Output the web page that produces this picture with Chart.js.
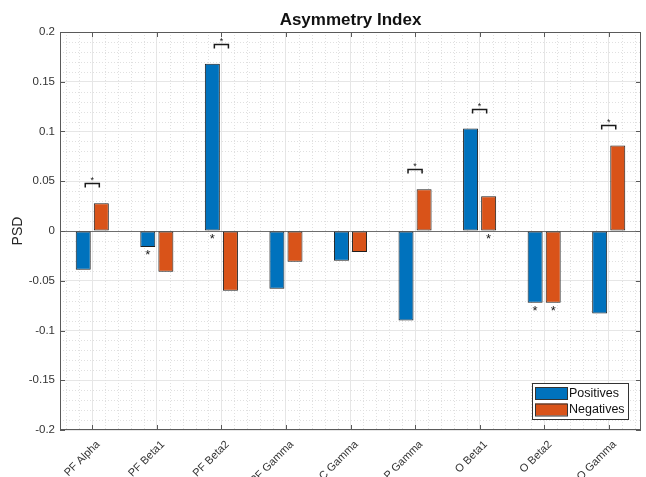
<!DOCTYPE html>
<html>
<head>
<meta charset="utf-8">
<title>Asymmetry Index</title>
<script src="https://cdn.jsdelivr.net/npm/chart.js@4.4.1/dist/chart.umd.min.js"></script>
<style>
  html, body { margin: 0; padding: 0; background: #fff; }
  #wrap { width: 646px; height: 477px; }
</style>
</head>
<body>
<div id="wrap"><canvas id="asym" width="646" height="477"></canvas></div>
<script>
'use strict';

// ── Data ──────────────────────────────────────────────────
const bands     = ['PF Alpha', 'PF Beta1', 'PF Beta2', 'PF Gamma', 'C Gamma', 'P Gamma', 'O Beta1', 'O Beta2', 'O Gamma'];
const positives = [-0.039, -0.016, 0.168, -0.058, -0.030, -0.090, 0.103, -0.072, -0.083];
const negatives = [0.028, -0.041, -0.060, -0.031, -0.021, 0.042, 0.035, -0.072, 0.086];
const yTicks    = [-0.2, -0.15, -0.1, -0.05, 0, 0.05, 0.1, 0.15, 0.2];
// bands where the two groups differ (bracket with star above)
const pairSig   = ['PF Alpha', 'PF Beta2', 'P Gamma', 'O Beta1', 'O Gamma'];
// single bars marked with a star below: [band, series]
const barSig    = [['PF Beta1', 0], ['PF Beta2', 0], ['O Beta1', 1], ['O Beta2', 0], ['O Beta2', 1]];

const BLUE   = '#0072BD';
const ORANGE = '#D95319';
const AXIS   = '#5a5a5a';
const FONT   = "'Liberation Sans', Arial, Helvetica, sans-serif";

Chart.defaults.font.family = FONT;
Chart.defaults.color = '#333';

function seg(ctx, x1, y1, x2, y2) {
    ctx.beginPath(); ctx.moveTo(x1, y1); ctx.lineTo(x2, y2); ctx.stroke();
}

// ── MATLAB-like frame, minor grid, stars, legend ──────────
const matlabFrame = {
    id: 'matlabFrame',
    beforeDatasetsDraw(chart) {
        const { ctx, chartArea: a, scales: { x, y } } = chart;
        ctx.save();
        ctx.lineWidth = 1;
        ctx.strokeStyle = '#e0e0e0';
        ctx.setLineDash([1, 2]);
        // minor y grid (0.01)
        for (let k = -19; k <= 19; k++) {
            if (k % 5 === 0) continue;
            const py = Math.round(y.getPixelForValue(k / 100)) + 0.5;
            seg(ctx, a.left, py, a.right, py);
        }
        // minor x grid (0.2 of a category)
        const step = x.getPixelForValue(1) - x.getPixelForValue(0);
        bands.forEach((b, i) => {
            [-0.4, -0.2, 0.2, 0.4].forEach(f => {
                const px = Math.round(x.getPixelForValue(i) + f * step) + 0.5;
                if (px > a.left + 1 && px < a.right - 1) seg(ctx, px, a.top, px, a.bottom);
            });
        });
        ctx.setLineDash([]);
        // bar baseline
        ctx.strokeStyle = '#6e6e6e';
        const z = Math.round(y.getPixelForValue(0)) + 0.5;
        seg(ctx, a.left, z, a.right, z);
        ctx.restore();
    },
    afterDatasetsDraw(chart) {
        const { ctx, chartArea: a, scales: { x, y } } = chart;
        ctx.save();
        // box + inward ticks
        ctx.strokeStyle = AXIS;
        ctx.lineWidth = 1;
        ctx.strokeRect(a.left + 0.5, a.top + 0.5, a.right - a.left - 1, a.bottom - a.top - 1);
        bands.forEach((b, i) => {
            const px = Math.round(x.getPixelForValue(i)) + 0.5;
            seg(ctx, px, a.bottom, px, a.bottom - 5);
            seg(ctx, px, a.top, px, a.top + 5);
        });
        yTicks.forEach(v => {
            const py = Math.round(y.getPixelForValue(v)) + 0.5;
            seg(ctx, a.left, py, a.left + 5, py);
            seg(ctx, a.right, py, a.right - 5, py);
        });

        const m0 = chart.getDatasetMeta(0).data;
        const m1 = chart.getDatasetMeta(1).data;
        ctx.fillStyle = '#1a1a1a';
        ctx.strokeStyle = '#1a1a1a';
        ctx.textAlign = 'center';

        // brackets between groups
        pairSig.forEach(b => {
            const i = bands.indexOf(b);
            const top = Math.min(m0[i].y, m1[i].y, y.getPixelForValue(0));
            const yb = Math.round(top - 20) + 0.5;
            const xl = m0[i].x + 2, xr = m1[i].x - 2;
            ctx.lineWidth = 1.5;
            ctx.beginPath();
            ctx.moveTo(xl, yb + 4); ctx.lineTo(xl, yb); ctx.lineTo(xr, yb); ctx.lineTo(xr, yb + 4);
            ctx.stroke();
            ctx.font = '9px ' + FONT;
            ctx.textBaseline = 'alphabetic';
            ctx.fillText('*', (xl + xr) / 2, yb - 0.5);
        });

        // stars under single bars
        ctx.font = '13px ' + FONT;
        ctx.textBaseline = 'top';
        barSig.forEach(([b, s]) => {
            const i = bands.indexOf(b);
            const el = (s === 0 ? m0 : m1)[i];
            const bottom = Math.max(el.y, el.base);
            ctx.fillText('*', el.x, bottom + 2);
        });
        ctx.restore();
    },
    afterDraw(chart) {
        const { ctx, chartArea: a } = chart;
        ctx.save();
        // title
        ctx.fillStyle = '#111';
        ctx.font = 'bold 17px ' + FONT;
        ctx.textAlign = 'center';
        ctx.textBaseline = 'alphabetic';
        ctx.fillText('Asymmetry Index', (a.left + a.right) / 2, 25);
        // y label
        ctx.font = '14px ' + FONT;
        ctx.fillStyle = '#262626';
        ctx.translate(18, (a.top + a.bottom) / 2);
        ctx.rotate(-Math.PI / 2);
        ctx.textBaseline = 'middle';
        ctx.fillText('PSD', 0, 0);
        ctx.restore();

        // legend box in lower right
        ctx.save();
        const w = 96, h = 36;
        const lx = a.right - 13 - w, ly = a.bottom - 11 - h;
        ctx.fillStyle = '#fff';
        ctx.fillRect(lx, ly, w, h);
        ctx.strokeStyle = '#333';
        ctx.lineWidth = 1;
        ctx.strokeRect(lx + 0.5, ly + 0.5, w, h);
        ctx.font = '12.5px ' + FONT;
        ctx.textAlign = 'left';
        ctx.textBaseline = 'middle';
        chart.data.datasets.forEach((ds, k) => {
            const ry = ly + 4 + k * 16.5;
            ctx.fillStyle = ds.backgroundColor;
            ctx.fillRect(lx + 3, ry, 32, 12);
            ctx.strokeStyle = '#333';
            ctx.strokeRect(lx + 3.5, ry + 0.5, 32, 12);
            ctx.fillStyle = '#111';
            ctx.fillText(ds.label, lx + 37, ry + 6.5);
        });
        ctx.restore();
    }
};

// ── Chart ─────────────────────────────────────────────────
new Chart(document.getElementById('asym'), {
    type: 'bar',
    data: {
        labels: bands,
        datasets: [
            { label: 'Positives', data: positives, backgroundColor: BLUE, borderColor: '#1f1f1f', borderWidth: 1, borderSkipped: false },
            { label: 'Negatives', data: negatives, backgroundColor: ORANGE, borderColor: '#1f1f1f', borderWidth: 1, borderSkipped: false },
        ]
    },
    options: {
        responsive: false,
        animation: false,
        categoryPercentage: 0.56,
        barPercentage: 0.83,
        layout: { padding: { top: 32, right: 5, left: 0, bottom: 0 } },
        plugins: { legend: { display: false }, tooltip: { enabled: false }, title: { display: false } },
        scales: {
            x: {
                grid: { offset: false, color: '#e6e6e6', drawTicks: false },
                border: { display: false },
                ticks: { minRotation: 45, maxRotation: 45, padding: 8, labelOffset: 6, autoSkip: false, font: { size: 11 }, color: '#333' },
                afterFit: s => { s.height = 47; }
            },
            y: {
                min: -0.2, max: 0.2,
                grid: { color: '#e6e6e6', drawTicks: false },
                border: { display: false },
                afterBuildTicks: s => { s.ticks = yTicks.map(v => ({ value: v })); },
                ticks: { padding: 5, font: { size: 11.5 }, color: '#333', callback: v => String(Number(v.toFixed(2))) },
                afterFit: s => { s.width = 60; }
            }
        }
    },
    plugins: [matlabFrame]
});
</script>
</body>
</html>
